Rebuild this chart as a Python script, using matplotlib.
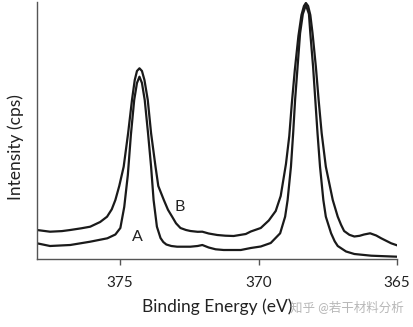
import matplotlib
matplotlib.use("Agg")
import matplotlib.pyplot as plt

# Binding energy (eV) and intensity (arbitrary units)
energy_B = [378.00, 377.53, 377.10, 376.80, 376.40, 376.08, 375.72, 375.47, 375.30, 375.17,
            375.03, 374.87, 374.71, 374.57, 374.47, 374.39, 374.30, 374.21, 374.12, 374.00,
            373.88, 373.72, 373.62, 373.42, 373.27, 373.12, 372.98, 372.82, 372.62, 372.46,
            372.20, 372.03, 371.80, 371.49, 371.20, 370.90, 370.46, 370.28, 369.92, 369.63,
            369.38, 369.20, 369.01, 368.89, 368.80, 368.69, 368.56, 368.45, 368.36, 368.29,
            368.21, 368.13, 368.05, 367.93, 367.83, 367.72, 367.57, 367.32, 367.14, 367.02,
            366.91, 366.72, 366.54, 366.35, 366.19, 365.97, 365.75, 365.57, 365.21, 365.00]
intensity_B = [29.3, 27.6, 28.2, 29.3, 31.0, 32.6, 37.3, 42.6, 50.0, 59.3,
               73.3, 92.6, 126.0, 159.3, 179.3, 188.3, 191.0, 188.3, 179.3, 159.3,
               126.0, 92.6, 73.3, 59.3, 49.5, 42.6, 36.0, 31.3, 29.3, 28.3,
               27.5, 27.6, 25.8, 24.3, 23.6, 23.3, 25.3, 27.8, 31.3, 38.8,
               48.3, 63.3, 95.3, 123.3, 155.3, 189.3, 223.3, 244.3, 253.3, 256.3,
               253.3, 244.3, 226.0, 192.6, 159.3, 126.0, 92.6, 59.3, 42.6, 34.5,
               28.3, 24.5, 22.8, 23.5, 24.8, 26.0, 23.8, 21.0, 16.0, 14.0]

energy_A = [378.00, 377.53, 376.80, 376.08, 375.46, 375.17, 374.99, 374.85, 374.72,
            374.61, 374.49, 374.39, 374.30, 374.21, 374.11, 373.99, 373.88, 373.79,
            373.67, 373.54, 373.44, 373.33, 373.15, 372.94, 372.46, 372.20, 372.03,
            371.80, 371.55, 371.26, 370.64, 370.28, 369.92, 369.56, 369.22, 369.04,
            368.95, 368.83, 368.75, 368.68, 368.59, 368.50, 368.40, 368.29, 368.18,
            368.13, 368.03, 367.95, 367.87, 367.78, 367.66, 367.57, 367.38, 367.25,
            367.14, 366.84, 366.54, 365.93, 365.00]
intensity_A = [16.0, 13.3, 14.3, 17.6, 21.0, 24.8, 31.3, 52.3, 84.3,
               124.3, 159.3, 176.3, 182.6, 176.3, 159.3, 126.0, 92.6, 59.3,
               32.6, 21.3, 17.3, 14.8, 13.3, 12.6, 12.6, 13.3, 14.3,
               11.8, 10.0, 9.3, 9.3, 11.3, 12.8, 16.3, 26.0, 42.6,
               59.3, 92.6, 126.0, 159.3, 192.6, 226.0, 245.3, 254.3, 245.3,
               226.0, 192.6, 159.3, 126.0, 92.6, 59.3, 42.6, 26.0, 18.0,
               13.3, 7.8, 5.3, 3.6, 2.6]

x_ticks = [375, 370, 365]
curve_labels = ["A", "B"]
label_pos = [(374.38, 22.0), (372.84, 52.6)]

plt.rcParams['font.family'] = ['Lato', 'Noto Sans CJK SC', 'DejaVu Sans']

fig = plt.figure(figsize=(4.14, 3.27), dpi=100)
ax = fig.add_axes([37/414, 1 - 259.3/327, 360/414, 257.3/327])

ax.plot(energy_B, intensity_B, color='#1a1a1a', lw=1.6, solid_joinstyle='round')
ax.plot(energy_A, intensity_A, color='#1a1a1a', lw=1.6, solid_joinstyle='round')

for lab, (ex, iy) in zip(curve_labels, label_pos):
    ax.text(ex, iy, lab, fontsize=11.5, color='#222222', ha='center', va='center')

ax.set_xlim(378.0, 365.0)
ax.set_ylim(0, 257.3)
ax.set_xticks(x_ticks)
ax.set_xticklabels([str(t) for t in x_ticks])
ax.set_yticks([])
for s in ['top', 'right']:
    ax.spines[s].set_visible(False)
for s in ['left', 'bottom']:
    ax.spines[s].set_color('#555555')
    ax.spines[s].set_linewidth(1.0)
ax.tick_params(axis='x', direction='out', length=4, width=1, color='#555555',
               labelsize=11, labelcolor='#222222', pad=8)
ax.set_xlabel('Binding Energy (eV)', fontsize=12.5, color='#222222', labelpad=6)
ax.set_ylabel('Intensity (cps)', fontsize=12.5, color='#222222', va='center')
ax.yaxis.set_label_coords(-0.06, 0.4345)

fig.text(0.975, 0.06, '知乎 @若干材料分析', fontsize=9, color='#999999', alpha=0.7,
         ha='right', va='center')

fig.savefig('out.png', dpi=100)
